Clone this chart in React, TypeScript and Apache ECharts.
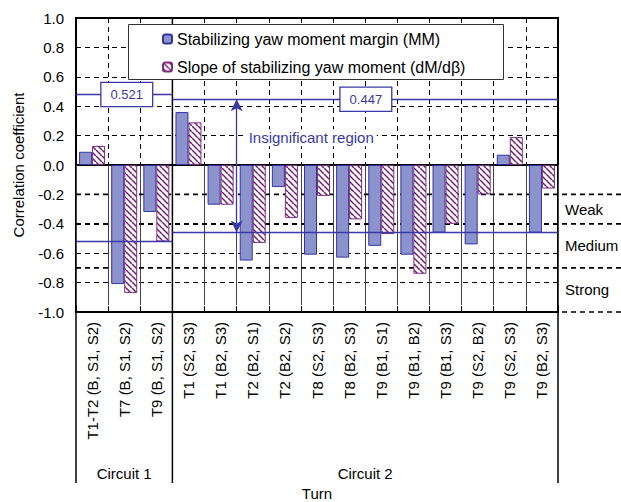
import React, { useEffect, useRef } from 'react';
import * as echarts from 'echarts';

const categories = [
  'T1-T2 (B, S1, S2)', 'T7 (B, S1, S2)', 'T9 (B, S1, S2)',
  'T1 (S2, S3)', 'T1 (B2, S3)', 'T2 (B2, S1)', 'T2 (B2, S2)', 'T8 (S2, S3)',
  'T8 (B2, S3)', 'T9 (B1, S1)', 'T9 (B1, B2)', 'T9 (B1, S3)', 'T9 (S2, B2)',
  'T9 (S2, S3)', 'T9 (B2, S3)',
];
const mmValues = [0.09, -0.81, -0.32, 0.36, -0.27, -0.65, -0.15, -0.61, -0.63, -0.55, -0.61, -0.46, -0.54, 0.07, -0.46];
const slopeValues = [0.13, -0.87, -0.52, 0.29, -0.27, -0.53, -0.36, -0.21, -0.37, -0.47, -0.74, -0.40, -0.20, 0.19, -0.16];

const seriesNames = ['Stabilizing yaw moment margin (MM)', 'Slope of stabilizing yaw moment (dM/d\u03b2)'];

const circuitNames = ['Circuit 1', 'Circuit 2'];
const circuitBounds = [0, 3, 15];
// significance bands per circuit: drawn upper, drawn lower, label
const sigUpper = [0.48, 0.447];
const sigLower = [-0.521, -0.46];
const sigLabels = ['0.521', '0.447'];
const sigLabelPos = [1.58, 9.02];

const strengthThresholds = [-0.2, -0.4, -0.7, -1.0];
const strengthLabels = ['Weak', 'Medium', 'Strong'];

const noteText = 'Insignificant region';
const noteArrowX = 5;
const notePoint = [5, 0.185];

const yMin = -1;
const yMax = 1;
const yStep = 0.2;

const FONT = 'Arial, "Liberation Sans", sans-serif';
const BLUE = '#3838a8';
const FS = 15;

function makeHatch() {
  const c = document.createElement('canvas');
  c.width = 6;
  c.height = 6;
  const ctx = c.getContext('2d')!;
  ctx.fillStyle = '#ffffff';
  ctx.fillRect(0, 0, 6, 6);
  ctx.strokeStyle = '#741e74';
  ctx.lineWidth = 1.5;
  for (const k of [-6, 0, 6]) {
    ctx.beginPath();
    ctx.moveTo(k, 0);
    ctx.lineTo(k + 6, 6);
    ctx.stroke();
  }
  return c;
}

export default function App() {
  const ref = useRef<HTMLDivElement>(null);
  useEffect(() => {
    const chart = echarts.init(ref.current!, null, { renderer: 'svg' });
    const hatch = makeHatch();
    const sigLineData: any[] = [];
    circuitNames.forEach((_, i) => {
      sigLineData.push([{ coord: [circuitBounds[i], sigUpper[i]] }, { coord: [circuitBounds[i + 1], sigUpper[i]] }]);
      sigLineData.push([{ coord: [circuitBounds[i], sigLower[i]] }, { coord: [circuitBounds[i + 1], sigLower[i]] }]);
    });
    const option: any = {
      animation: false,
      textStyle: { fontFamily: FONT },
      grid: {
        left: 76, top: 18, width: 482, height: 294,
        outerBoundsMode: 'none', containLabel: false,
        show: true, borderColor: '#000', borderWidth: 2, backgroundColor: 'transparent',
      },
      legend: {
        data: seriesNames,
        orient: 'vertical',
        left: 128,
        top: 24,
        padding: [7, 40, 5, 34],
        itemGap: 12,
        itemWidth: 9,
        itemHeight: 9,
        backgroundColor: 'transparent',
        borderWidth: 0,
        textStyle: { fontSize: 16, color: '#000', fontFamily: FONT },
        selectedMode: false,
        z: 8,
      },
      xAxis: [
        {
          type: 'category',
          data: categories,
          boundaryGap: true,
          axisLine: { show: true, lineStyle: { color: '#000', width: 2 } },
          axisTick: { show: true, interval: 0, length: 140, lineStyle: { color: '#444', width: 1 } },
          axisLabel: { interval: 0, rotate: 90, margin: 10, fontSize: FS, color: '#000', fontFamily: FONT },
          splitLine: { show: true, interval: 0, lineStyle: { color: '#000', width: 1, type: [5, 4] } },
          name: 'Turn',
          nameLocation: 'middle',
          nameGap: 174,
          nameTextStyle: { fontSize: FS, color: '#000', fontFamily: FONT },
        },
        { type: 'value', min: 0, max: categories.length, show: false },
      ],
      yAxis: {
        type: 'value',
        min: yMin,
        max: yMax,
        interval: yStep,
        axisLine: { show: true, lineStyle: { color: '#000', width: 2 } },
        axisTick: { show: false },
        axisLabel: {
          margin: 12,
          fontSize: FS,
          color: '#000',
          fontFamily: FONT,
          formatter: (v: number) => (Math.abs(v) < 1e-9 ? '0.0' : v.toFixed(1)),
        },
        splitLine: { show: true, lineStyle: { color: '#000', width: 1, type: [5, 4] } },
        name: 'Correlation coefficient',
        nameLocation: 'middle',
        nameGap: 50,
        nameTextStyle: { fontSize: FS, color: '#000', fontFamily: FONT },
      },
      series: [
        {
          name: seriesNames[0],
          type: 'bar',
          data: mmValues,
          barWidth: 13,
          barGap: '0%',
          itemStyle: { color: '#8c93cc', borderColor: '#3434a0', borderWidth: 1 },
          z: 2,
        },
        {
          name: seriesNames[1],
          type: 'bar',
          data: slopeValues,
          barWidth: 13,
          barGap: '0%',
          itemStyle: {
            color: { image: hatch, repeat: 'repeat', imageWidth: 6, imageHeight: 6 },
            borderColor: '#7d2d7d',
            borderWidth: 1,
          },
          z: 2,
        },
        {
          name: 'sig',
          type: 'scatter',
          xAxisIndex: 1,
          yAxisIndex: 0,
          symbolSize: 0,
          z: 6,
          silent: true,
          data: sigLabels.map((l, i) => ({ value: [sigLabelPos[i], sigUpper[i]], name: l })),
          label: { show: false },
          markLine: {
            silent: true,
            symbol: 'none',
            label: { show: false },
            lineStyle: { color: BLUE, width: 1.3, type: 'solid', opacity: 1 },
            data: sigLineData,
          },
        },
        {
          name: 'note',
          type: 'scatter',
          xAxisIndex: 1,
          yAxisIndex: 0,
          symbolSize: 0,
          z: 6,
          silent: true,
          data: [{ value: notePoint, name: noteText }],
          label: { show: false },
          markLine: {
            silent: true,
            symbol: ['arrow', 'arrow'],
            symbolSize: [9, 12],
            label: { show: false },
            lineStyle: { color: BLUE, width: 1.3, type: 'solid', opacity: 1 },
            data: [[{ coord: [noteArrowX, sigUpper[1]] }, { coord: [noteArrowX, sigLower[1]] }]],
          },
        },
      ],
    };
    chart.setOption(option);

    const px = (v: number) => chart.convertToPixel({ xAxisIndex: 1 }, v) as number;
    const py = (v: number) => chart.convertToPixel({ yAxisIndex: 0 }, v) as number;
    const W = chart.getWidth();
    const yBottom = py(yMin);
    const yTop = py(yMax);
    const graphics: any[] = [];
    // legend frame
    graphics.push({
      type: 'rect',
      silent: true,
      z: 7,
      shape: { x: 128.5, y: 24.5, width: 375, height: 55 },
      style: { fill: '#fff', stroke: '#333', lineWidth: 1 },
    });
    strengthThresholds.forEach((t) => {
      graphics.push({
        type: 'line',
        z: 1,
        silent: true,
        shape: { x1: px(0), y1: py(t), x2: W, y2: py(t) },
        style: { stroke: '#000', lineWidth: 1.7, lineDash: [5, 4] },
      });
    });
    strengthLabels.forEach((l, i) => {
      graphics.push({
        type: 'text',
        silent: true,
        x: px(categories.length) + 7,
        y: py((strengthThresholds[i] + strengthThresholds[i + 1]) / 2),
        style: { text: l, fontSize: FS, fontFamily: FONT, fill: '#000', verticalAlign: 'middle', align: 'left' },
      });
    });
    circuitBounds.forEach((b, i) => {
      const inner = i > 0 && i < circuitBounds.length - 1;
      graphics.push({
        type: 'line',
        z: 3,
        silent: true,
        shape: { x1: px(b), y1: inner ? yTop : yBottom, x2: px(b), y2: yBottom + 171 },
        style: { stroke: '#000', lineWidth: 1.5 },
      });
    });
    circuitNames.forEach((n, i) => {
      graphics.push({
        type: 'text',
        silent: true,
        x: (px(circuitBounds[i]) + px(circuitBounds[i + 1])) / 2,
        y: yBottom + 161,
        style: { text: n, fontSize: FS, fontFamily: FONT, fill: '#000', verticalAlign: 'middle', align: 'center' },
      });
    });
    sigLabels.forEach((l, i) => {
      graphics.push({
        type: 'text',
        silent: true,
        z: 10,
        x: px(sigLabelPos[i]),
        y: py(sigUpper[i]),
        style: {
          text: l, fontSize: 13, fontFamily: FONT, fill: BLUE,
          align: 'center', verticalAlign: 'middle',
          backgroundColor: '#fff', borderColor: BLUE, borderWidth: 1.3,
          padding: [5, 9, 5, 9],
        },
      });
    });
    graphics.push({
      type: 'text',
      silent: true,
      z: 10,
      x: px(notePoint[0]) + 9,
      y: py(notePoint[1]),
      style: {
        text: noteText, fontSize: FS, fontFamily: FONT, fill: BLUE,
        align: 'left', verticalAlign: 'middle',
        backgroundColor: '#fff', padding: [1, 3, 1, 3],
      },
    });
    chart.setOption({ graphic: graphics });

    return () => chart.dispose();
  }, []);
  return <div ref={ref} style={{ position: 'absolute', left: 0, top: 0, width: 621, height: 502 }} />;
}
